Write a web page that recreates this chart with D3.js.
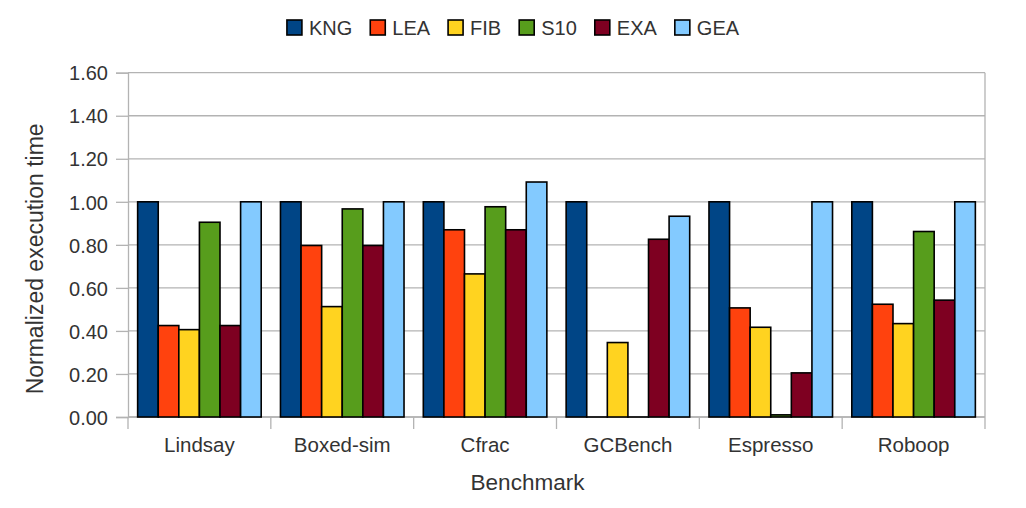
<!DOCTYPE html>
<html>
<head>
<meta charset="utf-8">
<script src="https://cdn.jsdelivr.net/npm/d3@7/dist/d3.min.js"></script>
<style>
  html, body { margin: 0; padding: 0; background: #fff; }
  svg { display: block; font-family: "Liberation Sans", Arial, sans-serif; }
</style>
</head>
<body>
<svg id="chart" width="1026" height="508"></svg>
<script>
const categories = ["Lindsay", "Boxed-sim", "Cfrac", "GCBench", "Espresso", "Roboop"];
const seriesNames = ["KNG", "LEA", "FIB", "S10", "EXA", "GEA"];
const seriesColors = ["#004586", "#ff420e", "#ffd320", "#579d1c", "#7e0021", "#83caff"];
const KNG = [1.00, 1.00, 1.00, 1.00, 1.00, 1.00];
const LEA = [0.425, 0.797, 0.870, 0.00, 0.507, 0.524];
const FIB = [0.406, 0.513, 0.665, 0.346, 0.417, 0.434];
const S10 = [0.905, 0.967, 0.977, 0.00, 0.010, 0.862];
const EXA = [0.425, 0.797, 0.870, 0.826, 0.205, 0.543];
const GEA = [1.00, 1.00, 1.092, 0.933, 1.00, 1.00];
const yTicks = [0, 0.2, 0.4, 0.6, 0.8, 1.0, 1.2, 1.4, 1.6];
const yTitle = "Normalized execution time";
const xTitle = "Benchmark";

const seriesValues = [KNG, LEA, FIB, S10, EXA, GEA];

const svg = d3.select("#chart");
const margin = { left: 128, right: 1026 - 985, top: 72.7, bottom: 508 - 417 };
const W = 1026, H = 508;
const x0 = d3.scaleBand().domain(categories).range([margin.left, W - margin.right]).paddingInner(0).paddingOuter(0);
const y = d3.scaleLinear().domain([0, 1.6]).range([H - margin.bottom, margin.top]);
const inner = 0.135;
const x1 = d3.scaleBand().domain(seriesNames)
  .range([x0.step() * inner / 2, x0.step() * (1 - inner / 2)]).padding(0);

const gridColor = "#b3b3b3";

// grid lines
svg.append("g").selectAll("line").data(yTicks).join("line")
  .attr("x1", margin.left).attr("x2", W - margin.right)
  .attr("y1", d => y(d)).attr("y2", d => y(d))
  .attr("stroke", gridColor).attr("stroke-width", 1.3);

// right border
svg.append("line")
  .attr("x1", W - margin.right).attr("x2", W - margin.right)
  .attr("y1", y(1.6)).attr("y2", y(0))
  .attr("stroke", gridColor).attr("stroke-width", 1.3);

// y axis
const yAxis = d3.axisLeft(y).tickValues(yTicks).tickFormat(d3.format(".2f")).tickSize(12).tickPadding(8);
const gy = svg.append("g").attr("transform", `translate(${margin.left},0)`).call(yAxis);
gy.select(".domain").attr("stroke", gridColor).attr("stroke-width", 1.3);
gy.selectAll(".tick line").attr("stroke", gridColor).attr("stroke-width", 1.3);
gy.selectAll(".tick text").attr("fill", "#333").style("font-size", "20px")
  .style("font-family", "'Liberation Sans', Arial, sans-serif").attr("dy", "0.36em");

// x axis: ticks at category boundaries
const boundaries = categories.map(c => x0(c)).concat([x0(categories[categories.length - 1]) + x0.bandwidth()]);
svg.append("line").attr("x1", margin.left).attr("x2", W - margin.right)
  .attr("y1", y(0)).attr("y2", y(0)).attr("stroke", gridColor).attr("stroke-width", 1.3);
svg.append("g").selectAll("line").data(boundaries).join("line")
  .attr("x1", d => d).attr("x2", d => d)
  .attr("y1", y(0)).attr("y2", y(0) + 12)
  .attr("stroke", gridColor).attr("stroke-width", 1.3);
svg.append("g").selectAll("text").data(categories).join("text")
  .attr("x", d => x0(d) + x0.bandwidth() / 2)
  .attr("y", y(0) + 35)
  .attr("text-anchor", "middle")
  .attr("fill", "#333").style("font-size", "20.5px")
  .text(d => d);

// bars
const groups = svg.append("g").selectAll("g").data(categories).join("g")
  .attr("transform", d => `translate(${x0(d)},0)`);
groups.selectAll("rect")
  .data((c, ci) => seriesNames.map((s, si) => ({ s, si, v: seriesValues[si][ci] })))
  .join("rect")
  .attr("x", d => x1(d.s))
  .attr("width", x1.bandwidth())
  .attr("y", d => y(d.v))
  .attr("height", d => Math.max(0.001, y(0) - y(d.v)))
  .attr("fill", d => seriesColors[d.si])
  .attr("stroke", "#000").attr("stroke-width", 1.6);

// axis titles
svg.append("text")
  .attr("x", (margin.left + W - margin.right) / 2 - 29)
  .attr("y", 490)
  .attr("text-anchor", "middle")
  .attr("fill", "#333").style("font-size", "22.5px")
  .text(xTitle);
svg.append("text")
  .attr("transform", `translate(43,${(y(0) + y(1.6)) / 2 + 14}) rotate(-90)`)
  .attr("text-anchor", "middle")
  .attr("fill", "#333").style("font-size", "23px")
  .text(yTitle);

// legend
const legend = svg.append("g");
const items = legend.selectAll("g").data(seriesNames).join("g");
items.append("rect").attr("width", 15).attr("height", 15).attr("y", 20)
  .attr("fill", (d, i) => seriesColors[i]).attr("stroke", "#000").attr("stroke-width", 1.6);
items.append("text").attr("x", 22).attr("y", 35)
  .attr("fill", "#333").style("font-size", "20px").text(d => d);
let cx = 0;
const gaps = [];
items.each(function () {
  const w = d3.select(this).select("text").node().getComputedTextLength();
  gaps.push(cx);
  cx += 22 + w + 18;
});
const total = cx - 18;
const startX = 513 - total / 2;
items.attr("transform", (d, i) => `translate(${startX + gaps[i]},0)`);
</script>
</body>
</html>
